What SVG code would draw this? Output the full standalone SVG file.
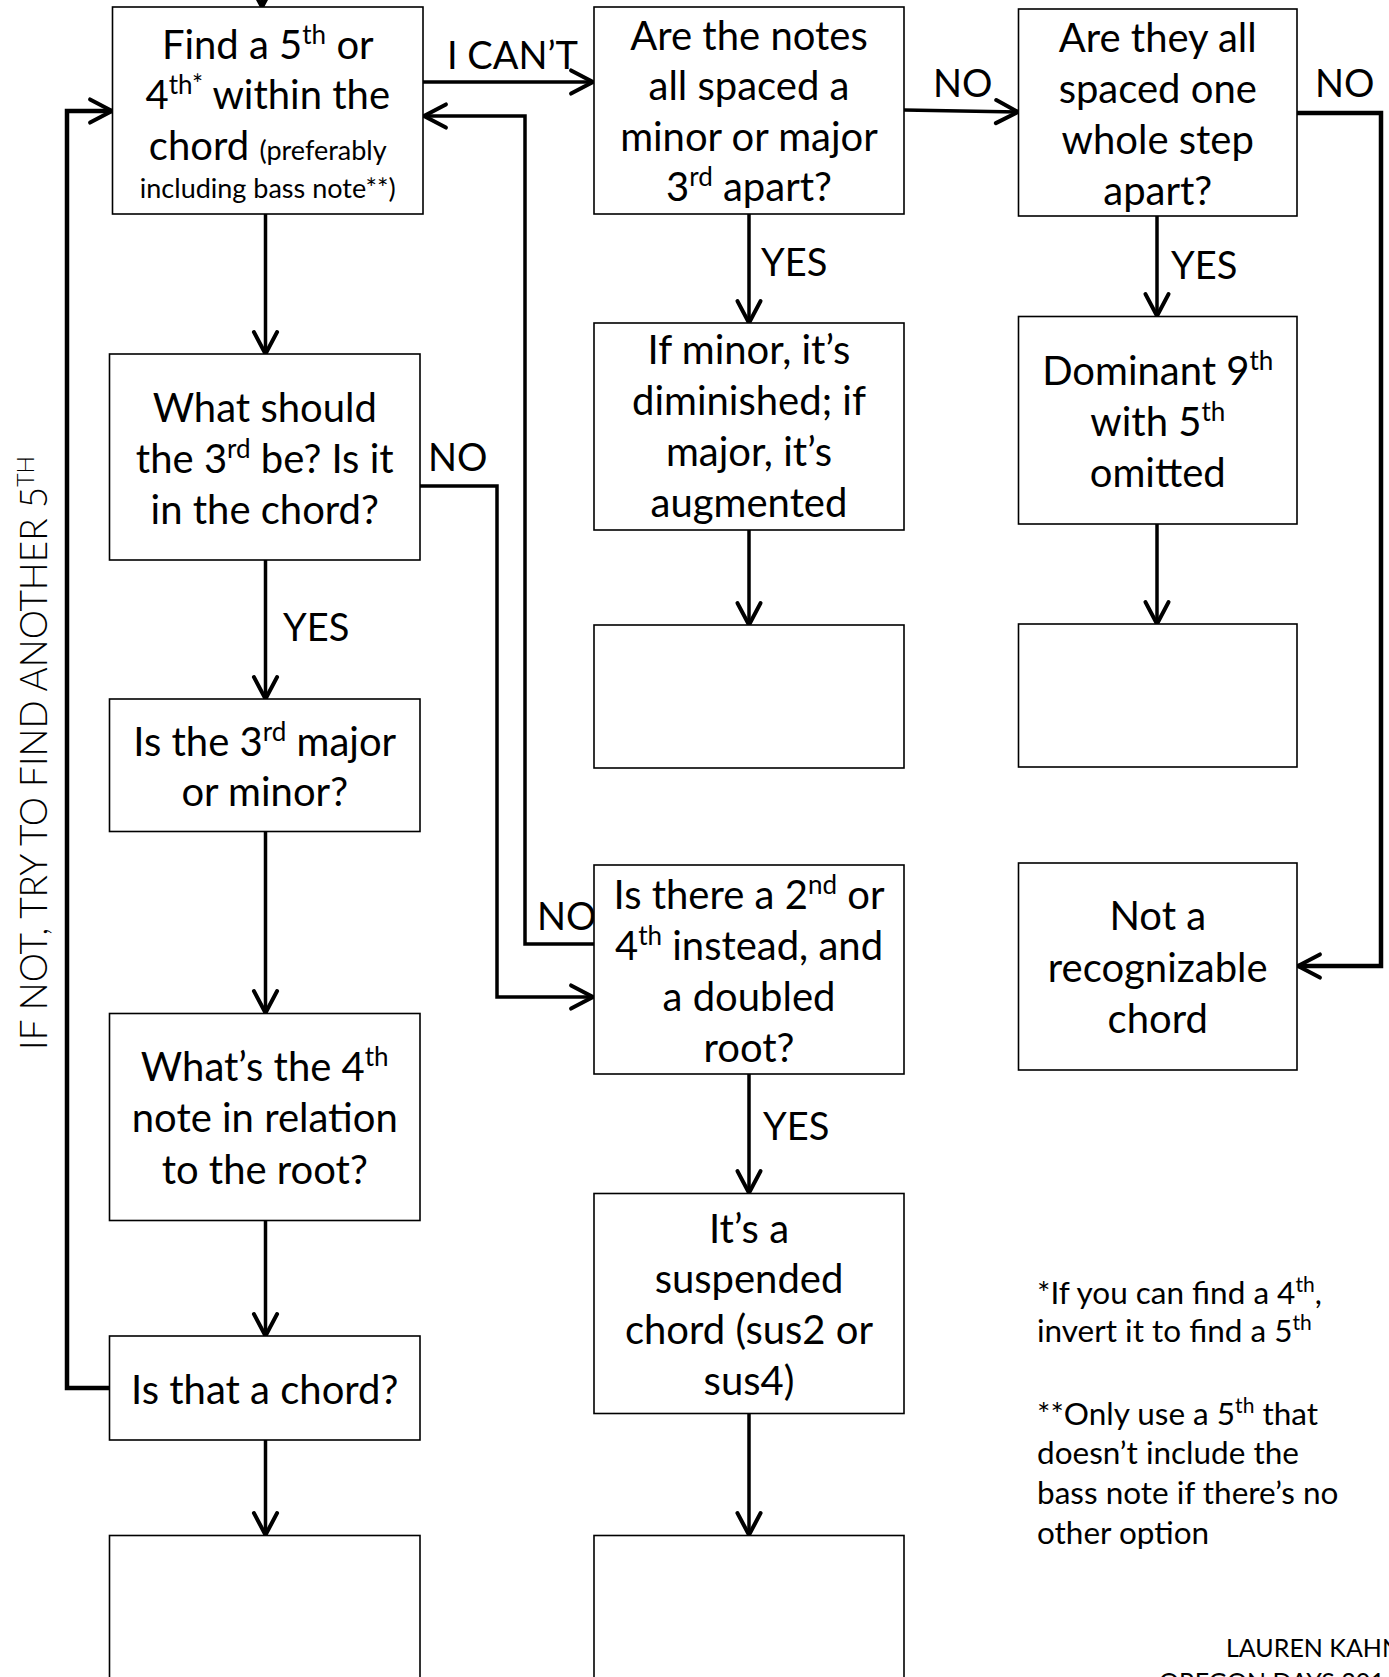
<svg xmlns="http://www.w3.org/2000/svg" width="1389" height="1677" viewBox="0 0 1389 1677">
<defs>
<marker id="arr" markerUnits="userSpaceOnUse" markerWidth="30" markerHeight="30" viewBox="-22 -12 26 24" refX="0" refY="0" orient="auto">
<path d="M-19,-10 L0,0 L-19,10" fill="none" stroke="#000" stroke-width="3.5" stroke-linecap="round" stroke-linejoin="miter"/>
</marker>
<style>
.box{fill:#fff;stroke:#000;stroke-width:1.6}
.t{font-family:Lato,"Open Sans",sans-serif;font-size:40px;fill:#000;text-anchor:middle}
.s{font-size:26px}
.sm{font-size:27px}
.lbl{font-family:Lato,"Open Sans",sans-serif;font-size:38px;fill:#000}
.fn{font-family:Lato,"Open Sans",sans-serif;font-size:31.5px;fill:#000}
.c{fill:none;stroke:#000;stroke-width:3.5;stroke-linejoin:miter}
.cw{fill:none;stroke:#000;stroke-width:4.5;stroke-linejoin:miter}
</style>
</defs>
<rect width="1389" height="1677" fill="#fff"/>

<g id="connectors">
<path class="c" d="M262,-5 V7" marker-end="url(#arr)"/>
<path class="c" d="M423,82 H593" marker-end="url(#arr)"/>
<path class="c" d="M904,110 L1018,112" marker-end="url(#arr)"/>
<path class="cw" d="M1297,113 H1381 V966 H1298" marker-end="url(#arr)"/>
<path class="c" d="M749,214 V323" marker-end="url(#arr)"/>
<path class="c" d="M1157,216 V316" marker-end="url(#arr)"/>
<path class="c" d="M749,530 V625" marker-end="url(#arr)"/>
<path class="c" d="M1157,524 V624" marker-end="url(#arr)"/>
<path class="c" d="M265.5,214 V354" marker-end="url(#arr)"/>
<path class="c" d="M420,486 H497 V997 H593" marker-end="url(#arr)"/>
<path class="c" d="M594,944 H525 V116 H424" marker-end="url(#arr)"/>
<path class="c" d="M265.5,560 V699" marker-end="url(#arr)"/>
<path class="c" d="M265.5,832 V1013" marker-end="url(#arr)"/>
<path class="c" d="M265.5,1220 V1336" marker-end="url(#arr)"/>
<path class="c" d="M265.5,1440 V1535" marker-end="url(#arr)"/>
<path class="cw" d="M109,1388 H67 V111 H112" marker-end="url(#arr)"/>
<path class="c" d="M749,1074 V1193" marker-end="url(#arr)"/>
<path class="c" d="M749,1414 V1535" marker-end="url(#arr)"/>
<text class="lbl" x="447" y="69">I CAN’T</text>
<text class="lbl" x="933" y="97">NO</text>
<text class="lbl" x="1315" y="97">NO</text>
<text class="lbl" x="761" y="276">YES</text>
<text class="lbl" x="1171" y="279">YES</text>
<text class="lbl" x="428" y="471">NO</text>
<text class="lbl" x="283" y="641">YES</text>
<text class="lbl" x="537" y="930">NO</text>
<text class="lbl" x="763" y="1140">YES</text>
</g>

<g id="n1">
<rect class="box" x="112.5" y="7" width="310.5" height="207"/>
<text class="t" x="267.75" y="59">Find a 5<tspan class="s" dy="-15">th</tspan><tspan dy="15"> or</tspan></text>
<text class="t" x="267.75" y="109">4<tspan class="s" dy="-15">th*</tspan><tspan dy="15"> within the</tspan></text>
<text class="t" x="267.75" y="160">chord <tspan class="sm">(preferably</tspan></text>
<text class="t sm" x="267.75" y="198">including bass note**)</text>
</g>

<g id="n2">
<rect class="box" x="594" y="7" width="310" height="207"/>
<text class="t" x="749" y="50">Are the notes</text>
<text class="t" x="749" y="100">all spaced a</text>
<text class="t" x="749" y="151">minor or major</text>
<text class="t" x="749" y="201">3<tspan class="s" dy="-15">rd</tspan><tspan dy="15"> apart?</tspan></text>
</g>

<g id="n3">
<rect class="box" x="1018.5" y="9" width="278.5" height="207"/>
<text class="t" x="1157.75" y="52">Are they all</text>
<text class="t" x="1157.75" y="103">spaced one</text>
<text class="t" x="1157.75" y="154">whole step</text>
<text class="t" x="1157.75" y="205">apart?</text>
</g>

<g id="n4">
<rect class="box" x="109.5" y="354" width="310.5" height="206"/>
<text class="t" x="264.75" y="422">What should</text>
<text class="t" x="264.75" y="473">the 3<tspan class="s" dy="-15">rd</tspan><tspan dy="15"> be? Is it</tspan></text>
<text class="t" x="264.75" y="524">in the chord?</text>
</g>

<g id="n5">
<rect class="box" x="594" y="323" width="310" height="207"/>
<text class="t" x="749" y="364">If minor, it’s</text>
<text class="t" x="749" y="415">diminished; if</text>
<text class="t" x="749" y="466">major, it’s</text>
<text class="t" x="749" y="517">augmented</text>
</g>

<g id="n6">
<rect class="box" x="1018.5" y="316.5" width="278.5" height="207.5"/>
<text class="t" x="1157.75" y="385">Dominant 9<tspan class="s" dy="-15">th</tspan></text>
<text class="t" x="1157.75" y="436">with 5<tspan class="s" dy="-15">th</tspan></text>
<text class="t" x="1157.75" y="487">omitted</text>
</g>

<g id="n7">
<rect class="box" x="594" y="625" width="310" height="143"/>
</g>

<g id="n8">
<rect class="box" x="1018.5" y="624" width="278.5" height="143"/>
</g>

<g id="n9">
<rect class="box" x="109.5" y="699" width="310.5" height="132.5"/>
<text class="t" x="264.75" y="756">Is the 3<tspan class="s" dy="-15">rd</tspan><tspan dy="15"> major</tspan></text>
<text class="t" x="264.75" y="806">or minor?</text>
</g>

<g id="n10">
<rect class="box" x="594" y="865" width="310" height="209"/>
<text class="t" x="749" y="909">Is there a 2<tspan class="s" dy="-15">nd</tspan><tspan dy="15"> or</tspan></text>
<text class="t" x="749" y="960">4<tspan class="s" dy="-15">th</tspan><tspan dy="15"> instead, and</tspan></text>
<text class="t" x="749" y="1011">a doubled</text>
<text class="t" x="749" y="1062">root?</text>
</g>

<g id="n11">
<rect class="box" x="1018.5" y="863" width="278.5" height="207"/>
<text class="t" x="1157.75" y="930">Not a</text>
<text class="t" x="1157.75" y="982">recognizable</text>
<text class="t" x="1157.75" y="1033">chord</text>
</g>

<g id="n12">
<rect class="box" x="109.5" y="1013.5" width="310.5" height="207"/>
<text class="t" x="264.75" y="1081">What’s the 4<tspan class="s" dy="-15">th</tspan></text>
<text class="t" x="264.75" y="1132">note in relation</text>
<text class="t" x="264.75" y="1184">to the root?</text>
</g>

<g id="n13">
<rect class="box" x="109.5" y="1336" width="310.5" height="104"/>
<text class="t" x="264.75" y="1404">Is that a chord?</text>
</g>

<g id="n14">
<rect class="box" x="594" y="1193.5" width="310" height="220"/>
<text class="t" x="749" y="1243">It’s a</text>
<text class="t" x="749" y="1293">suspended</text>
<text class="t" x="749" y="1344">chord (sus2 or</text>
<text class="t" x="749" y="1395">sus4)</text>
</g>

<g id="n15">
<rect class="box" x="109.5" y="1535.5" width="310.5" height="200"/>
</g>

<g id="n16">
<rect class="box" x="594" y="1535.5" width="310" height="200"/>
</g>

<g id="side-label">
<text class="lbl" style="font-size:37px;font-weight:300;text-anchor:middle" transform="translate(47,753) rotate(-90)">IF NOT, TRY TO FIND ANOTHER 5<tspan style="font-size:23px" dy="-13">TH</tspan></text>
</g>

<g id="notes">
<text class="fn" x="1037" y="1304">*If you can find a 4<tspan style="font-size:21px" dy="-12">th</tspan><tspan dy="12">,</tspan></text>
<text class="fn" x="1037" y="1342">invert it to find a 5<tspan style="font-size:21px" dy="-12">th</tspan></text>
<text class="fn" x="1037" y="1425">**Only use a 5<tspan style="font-size:21px" dy="-12">th</tspan><tspan dy="12"> that</tspan></text>
<text class="fn" x="1037" y="1464">doesn’t include the</text>
<text class="fn" x="1037" y="1504">bass note if there’s no</text>
<text class="fn" x="1037" y="1544">other option</text>
<text class="fn" style="font-size:25px" x="1226" y="1657">LAUREN KAHN</text>
<text class="fn" style="font-size:25px" x="1159" y="1691">OREGON DAYS 201</text>
</g>
</svg>
